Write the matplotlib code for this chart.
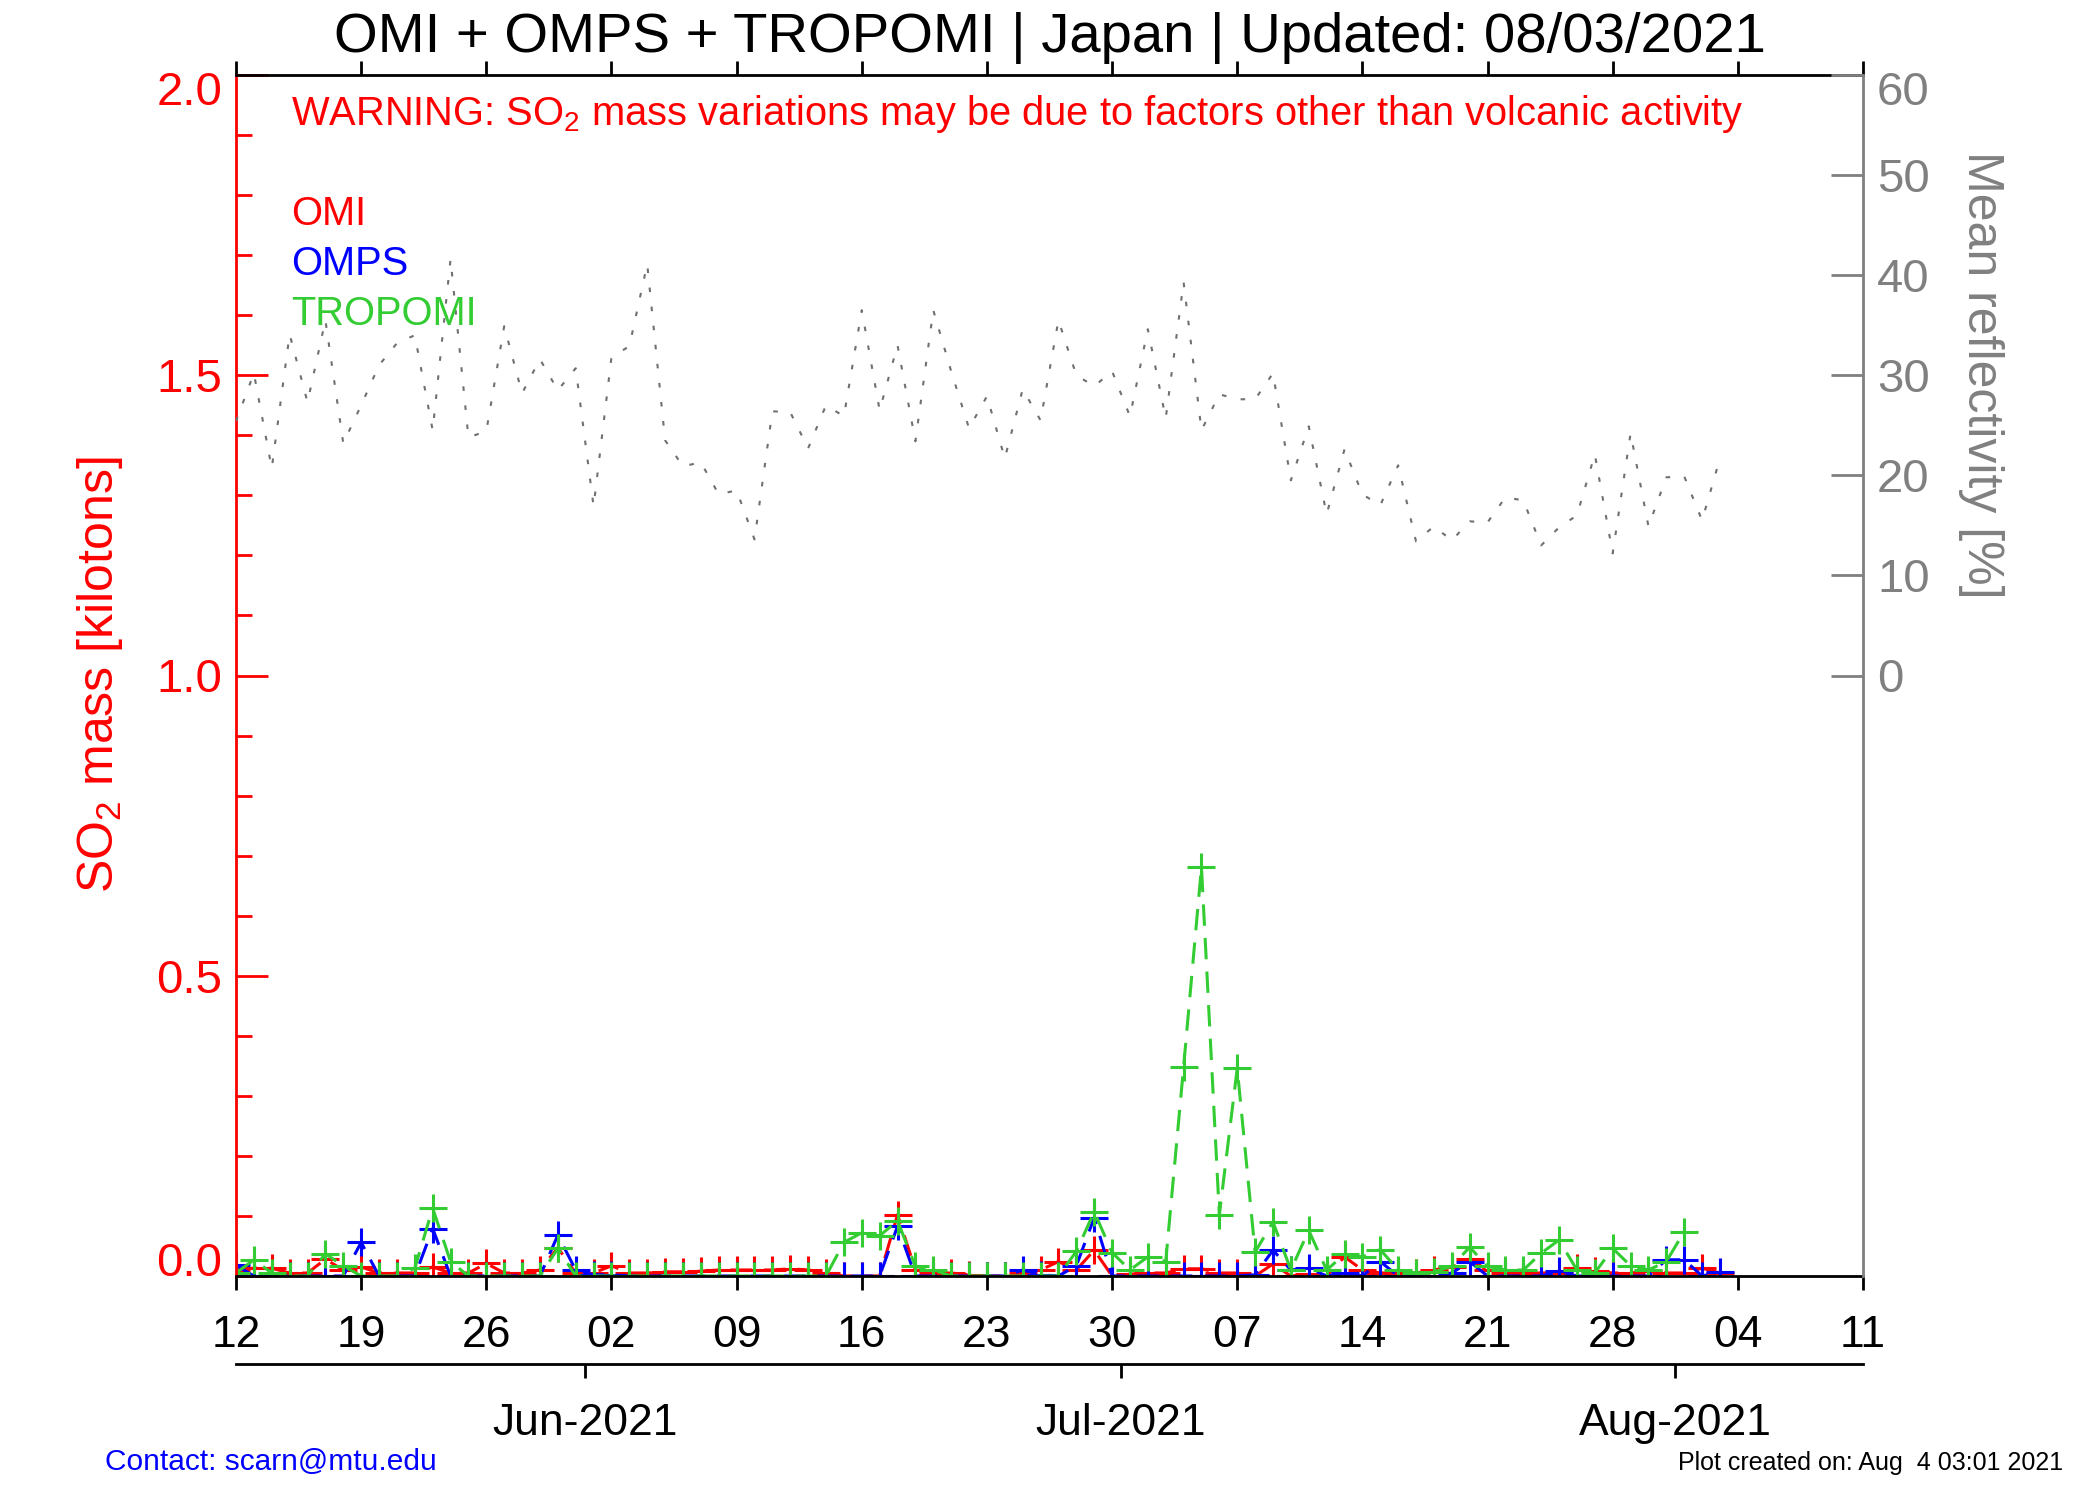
import matplotlib
matplotlib.use("Agg")
import matplotlib.pyplot as plt
import matplotlib.dates as mdates
from matplotlib.ticker import MultipleLocator
from matplotlib.transforms import ScaledTranslation
import pandas as pd

plt.rcParams["font.family"] = ["Liberation Sans", "DejaVu Sans"]
plt.rcParams["mathtext.default"] = "regular"

# daily values from 12 May 2021 (noon, IDL julian-day style)
START = "2021-05-12 12:00"

reflectivity = [
    25.4, 30.2, 20.7, 34.1, 27.3, 35.5, 23.2,
    27.0, 31.0, 33.2, 34.0, 24.5, 41.6, 23.8,
    24.4, 34.9, 28.2, 31.6, 28.5, 30.7, 16.9,
    31.8, 32.9, 41.1, 23.5, 20.9, 21.3, 18.1,
    18.5, 13.6, 26.4, 26.3, 22.7, 27.0, 25.9,
    36.5, 26.5, 33.0, 23.4, 36.5, 30.4, 24.7,
    27.9, 21.7, 28.6, 25.5, 35.5, 30.0, 28.9,
    30.4, 25.9, 34.6, 25.7, 39.3, 24.5, 28.1,
    27.6, 27.6, 30.2, 19.5, 24.9, 16.1, 22.6,
    18.1, 17.0, 21.0, 13.4, 14.9, 13.5, 15.4,
    15.3, 17.8, 17.5, 13.0, 14.8, 16.0, 22.1,
    12.2, 24.2, 14.9, 19.8, 19.9, 15.5, 21.7,
]

omi = [
    0.010, 0.013, 0.013, 0.005, 0.005, 0.028, 0.010,
    0.015, 0.005, 0.005, 0.005, 0.015, 0.005, 0.005,
    0.021, 0.005, 0.005, 0.010, 0.047, 0.005, 0.005,
    0.017, 0.005, 0.005, 0.007, 0.007, 0.008, 0.010,
    0.010, 0.010, 0.010, 0.012, 0.010, 0.005, 0.000,
    0.000, 0.000, 0.102, 0.010, 0.005, 0.005, 0.002,
    0.000, 0.000, 0.005, 0.010, 0.024, 0.010, 0.043,
    0.000, 0.003, 0.005, 0.005, 0.012, 0.012, 0.005,
    0.005, 0.000, 0.020, 0.000, 0.003, 0.000, 0.032,
    0.010, 0.005, 0.005, 0.005, 0.010, 0.015, 0.028,
    0.010, 0.005, 0.005, 0.005, 0.005, 0.013, 0.008,
    0.005, 0.005, 0.008, 0.005, 0.005, 0.013, 0.005,
]

omps = [
    0.018, 0.000, 0.000, 0.000, 0.000, 0.000, 0.000,
    0.056, 0.000, 0.000, 0.000, 0.079, 0.000, 0.000,
    0.000, 0.000, 0.000, 0.000, 0.068, 0.010, 0.002,
    0.002, 0.000, 0.000, 0.000, 0.000, 0.000, 0.000,
    0.000, 0.000, 0.000, 0.000, 0.000, 0.000, 0.000,
    0.000, 0.000, 0.083, 0.000, 0.000, 0.000, 0.000,
    0.000, 0.000, 0.010, 0.002, 0.000, 0.017, 0.097,
    0.000, 0.000, 0.000, 0.000, 0.000, 0.000, 0.000,
    0.000, 0.002, 0.043, 0.010, 0.013, 0.000, 0.005,
    0.000, 0.024, 0.000, 0.000, 0.000, 0.005, 0.024,
    0.000, 0.000, 0.000, 0.000, 0.008, 0.000, 0.000,
    0.000, 0.000, 0.000, 0.027, 0.027, 0.000, 0.007,
]

tropomi = [
    0.005, 0.027, 0.005, 0.000, 0.000, 0.037, 0.017,
    0.000, 0.000, 0.000, 0.013, 0.113, 0.024, 0.000,
    0.000, 0.000, 0.000, 0.000, 0.046, 0.000, 0.000,
    0.000, 0.000, 0.000, 0.000, 0.000, 0.000, 0.000,
    0.000, 0.000, 0.000, 0.000, 0.000, 0.000, 0.056,
    0.072, 0.067, 0.092, 0.016, 0.010, 0.000, 0.000,
    0.000, 0.000, 0.000, 0.000, 0.000, 0.041, 0.107,
    0.039, 0.010, 0.032, 0.024, 0.348, 0.681, 0.102,
    0.346, 0.040, 0.090, 0.010, 0.076, 0.010, 0.036,
    0.032, 0.044, 0.010, 0.005, 0.007, 0.016, 0.048,
    0.016, 0.010, 0.010, 0.038, 0.060, 0.010, 0.005,
    0.046, 0.017, 0.010, 0.024, 0.074,
]

so2_ticks = [0.0, 0.5, 1.0, 1.5, 2.0]
so2_labels = ["0.0", "0.5", "1.0", "1.5", "2.0"]
refl_ticks = [0, 10, 20, 30, 40, 50, 60]

week_ticks = pd.date_range("2021-05-12 12:00", "2021-08-11 12:00", freq="7D")
month_ticks = pd.to_datetime(["2021-06-01", "2021-07-01", "2021-08-01"])

title = "OMI + OMPS + TROPOMI | Japan | Updated: 08/03/2021"
warning = "WARNING: SO$_2$ mass variations may be due to factors other than volcanic activity"

RED = "#ff0000"
BLUE = "#0000ff"
GREEN = "#33cc33"
GRAY = "#808080"

W, H = 2100, 1500


def fx(px):
    return px / W


def fy(px):
    return 1 - px / H


def main() -> None:
    fig = plt.figure(figsize=(21, 15), dpi=100)
    left, right, top, bottom = 236, 1863, 75, 1276
    ax = fig.add_axes([fx(left), fy(bottom), (right - left) / W, (bottom - top) / H])

    def days(n):
        return pd.date_range(START, periods=n, freq="D")

    dash = (0, (7, 4))
    for values, color in [(omi, RED), (omps, BLUE), (tropomi, GREEN)]:
        ax.plot(days(len(values)), values, color=color, lw=2.2, ls=dash,
                marker="+", ms=20, mew=2.2)

    ax.set_xlim(week_ticks[0], week_ticks[-1])
    ax.set_ylim(0, 2)
    ax.set_xticks(week_ticks)
    ax.xaxis.set_major_formatter(mdates.DateFormatter("%d"))
    ax.tick_params(axis="x", which="major", direction="out", length=10, width=2,
                   top=True, labelsize=32, pad=18, colors="black")
    ax.set_yticks(so2_ticks)
    ax.set_yticklabels(so2_labels)
    ax.yaxis.set_minor_locator(MultipleLocator(0.1))
    ax.tick_params(axis="y", which="both", direction="in", colors=RED,
                   labelsize=34, pad=10, width=2)
    ax.tick_params(axis="y", which="major", length=23)
    ax.tick_params(axis="y", which="minor", length=11.5)
    ax.spines["left"].set_color(RED)
    ax.spines["right"].set_visible(False)
    for s in ax.spines.values():
        s.set_linewidth(2)

    # end labels sit inside the axis range, as in the IDL original
    down = ScaledTranslation(0, -0.13, fig.dpi_scale_trans)
    ylabs = ax.get_yticklabels()
    ylabs[0].set_va("baseline")
    ylabs[-1].set_transform(ylabs[-1].get_transform() + down)

    ax2 = ax.twinx()
    ax2.plot(days(len(reflectivity)), reflectivity, color="#707070", lw=1.5,
             ls=(0, (2.2, 7)))
    ax2.set_ylim(-60, 60)
    ax2.set_yticks(refl_ticks)
    ax2.tick_params(axis="y", direction="in", length=23, width=2, colors=GRAY,
                    labelsize=34, pad=10)
    for name in ["left", "top", "bottom"]:
        ax2.spines[name].set_visible(False)
    ax2.spines["right"].set_color(GRAY)
    ax2.spines["right"].set_linewidth(2)
    rlabs = ax2.get_yticklabels()
    rlabs[-1].set_transform(rlabs[-1].get_transform() + down)

    # month axis below the day axis
    ax3 = fig.add_axes([fx(left), fy(1364), (right - left) / W, 0.0005])
    ax3.patch.set_visible(False)
    for name in ["left", "right", "top"]:
        ax3.spines[name].set_visible(False)
    ax3.spines["bottom"].set_linewidth(2)
    ax3.set_xlim(week_ticks[0], week_ticks[-1])
    ax3.set_yticks([])
    ax3.set_xticks(month_ticks)
    ax3.xaxis.set_major_formatter(mdates.DateFormatter("%b-%Y"))
    ax3.tick_params(axis="x", direction="out", length=10, width=2, labelsize=32, pad=18)

    fig.text(fx(1049.5), fy(52), title, ha="center", va="baseline", fontsize=40.5)
    fig.text(fx(291), fy(125), warning, color=RED, fontsize=28.7, va="baseline")
    for label, color, ypx in [("OMI", RED, 225), ("OMPS", BLUE, 275), ("TROPOMI", GREEN, 325)]:
        fig.text(fx(291), fy(ypx), label, color=color, fontsize=28.7, va="baseline")

    fig.text(fx(100), fy(675), "SO$_2$ mass [kilotons]", rotation=90, ha="center",
             va="center", color=RED, fontsize=36)
    fig.text(fx(1981), fy(375), "Mean reflectivity [%]", rotation=270, ha="center",
             va="center", color=GRAY, fontsize=36)

    fig.text(fx(105), fy(1470), "Contact: scarn@mtu.edu", color=BLUE, fontsize=21.5,
             va="baseline")
    fig.text(fx(2063), fy(1470), "Plot created on: Aug  4 03:01 2021", ha="right",
             fontsize=18, va="baseline")

    fig.savefig("out.png", dpi=100)


if __name__ == "__main__":
    main()
